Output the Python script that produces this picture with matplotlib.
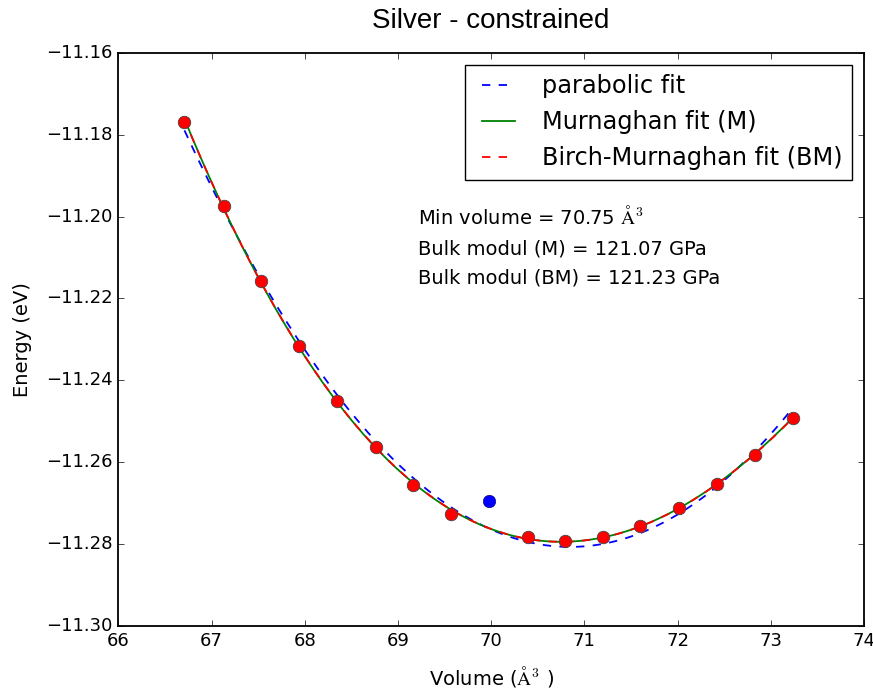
#!/usr/bin/env python3
import matplotlib
matplotlib.use('Agg')
import matplotlib.pyplot as plt
from matplotlib.ticker import MultipleLocator
import numpy as np

# energy vs volume points (eV, A^3)
volume = [66.71, 67.13, 67.53, 67.94, 68.35, 68.76, 69.16, 69.57,
          70.39, 70.79, 71.20, 71.60, 72.02, 72.42, 72.83, 73.24]
energy = [-11.1770, -11.1974, -11.2157, -11.2316, -11.2450, -11.2562, -11.2655, -11.2726,
          -11.2782, -11.2791, -11.2782, -11.2754, -11.2710, -11.2652, -11.2582, -11.2491]
# the one point left out of the fit
outlier_volume = [69.98]
outlier_energy = [-11.2693]

info_lines = [r"Min volume = 70.75 $\mathrm{\AA}^3$",
              "Bulk modul (M) = 121.07 GPa",
              "Bulk modul (BM) = 121.23 GPa"]

v = np.array(volume)
e = np.array(energy)
v_fit = np.linspace(v.min(), v.max(), 300)

# parabolic fit
parab = np.polyval(np.polyfit(v, e, 2), v_fit)

# Birch-Murnaghan (3rd order) is linear in V^-2/3 powers
def bm_basis(x):
    return np.column_stack([np.ones_like(x), x**(-2/3), x**(-4/3), x**(-2)])
coef_bm = np.linalg.lstsq(bm_basis(v), e, rcond=None)[0]
bm = bm_basis(v_fit) @ coef_bm

# Murnaghan: for fixed V0, B' it is linear in E0, B0 -> small grid search
def murn_g(x, v0, bp):
    return x / bp * ((v0 / x)**bp / (bp - 1) + 1) - v0 / (bp - 1)
best = None
for v0 in np.linspace(70.0, 71.5, 151):
    for bp in np.linspace(2.0, 9.0, 71):
        A = np.column_stack([np.ones_like(v), murn_g(v, v0, bp)])
        c = np.linalg.lstsq(A, e, rcond=None)[0]
        r = np.sum((A @ c - e)**2)
        if best is None or r < best[0]:
            best = (r, v0, bp, c)
_, v0, bp, c = best
murn = c[0] + c[1] * murn_g(v_fit, v0, bp)

plt.style.use('classic')
plt.rcParams['figure.facecolor'] = 'white'
plt.rcParams['axes.linewidth'] = 1.3

fig = plt.figure(figsize=(8.73, 6.92), dpi=100)
ax = fig.add_axes([0.1355, 0.0947, 0.8542, 0.8294])

ax.plot(v_fit, parab, 'b--', lw=1.3, label='parabolic fit')
ax.plot(v_fit, murn, 'g-', lw=1.3, label='Murnaghan fit (M)')
ax.plot(v_fit, bm, 'r--', lw=1.3, label='Birch-Murnaghan fit (BM)')
ax.plot(volume, energy, 'o', color='red', ms=9, mec='#444444', mew=0.6, zorder=5)
ax.plot(outlier_volume, outlier_energy, 'o', color='blue', ms=9, mec='#000066', mew=0.4, zorder=5)

ax.set_xlim(66, 74)
ax.set_ylim(-11.30, -11.16)
ax.yaxis.set_major_locator(MultipleLocator(0.02))
ax.ticklabel_format(useOffset=False)
ax.tick_params(labelsize=13)

for y, s in zip([-11.2019, -11.2092, -11.2163], info_lines):
    ax.text(69.216, y, s, fontsize=14, va='baseline', ha='left')

ax.set_xlabel(r"Volume ($\mathrm{\AA}^3$ )", fontsize=14, labelpad=10)
ax.set_ylabel("Energy (eV)", fontsize=14, labelpad=10)
ax.set_title("Silver - constrained", fontsize=20, family='Liberation Sans', pad=18)
ax.legend(loc='upper right', fontsize=17.3, borderaxespad=0.5)

fig.savefig('out.png', dpi=100)
